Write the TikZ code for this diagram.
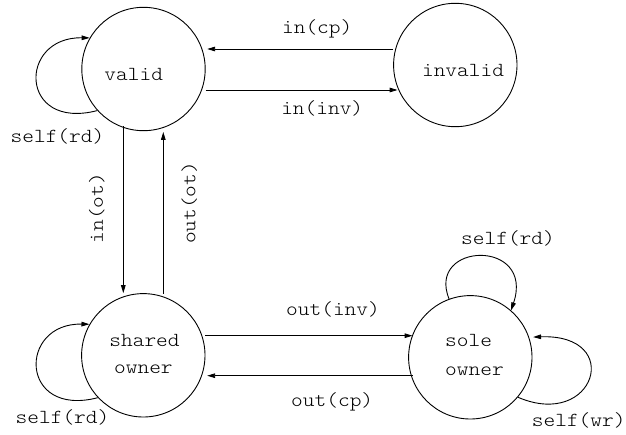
\documentclass[tikz,border=0pt]{standalone}
\usepackage{fontspec}
\setmonofont{lmmonolt10-regular}[Extension=.otf,FakeStretch=1.12]
\usetikzlibrary{arrows.meta}
\begin{document}
\begin{tikzpicture}[x=1pt,y=-1pt,
  state/.style={draw,circle,line width=0.9pt,minimum size=123.4pt,inner sep=0pt},
  txt/.style={font=\ttfamily\fontsize{19.9}{22}\selectfont,inner sep=0pt},
  arr/.style={line width=0.9pt,-{Triangle[length=8pt,width=4.6pt]}}]
\useasboundingbox (0,0) rectangle (626,434);

% states
\node[state] (valid)   at (143.5,69)  {};
\node[state] (invalid) at (455.3,65)  {};
\node[state] (shared)  at (143.3,355.3) {};
\node[state] (sole)    at (470.3,357.3) {};

% state names
\node[txt,anchor=base] (validname)   at (133.7,80) {valid};
\node[txt,anchor=base] (invalidname) at (463,76)   {invalid};
\node[txt,anchor=base] (sharedA) at (144.5,346.7) {shared};
\node[txt,anchor=base] (sharedB) at (143.4,373.3) {owner};
\node[txt,anchor=base west] (soleA) at (445,346.7) {sole};
\node[txt,anchor=base west] (soleB) at (445,375)   {owner};

% transitions between valid and invalid
\draw[arr] ([yshift=16pt]invalid.west) -- ([xshift=1.5pt,yshift=20pt]valid.east);
\draw[arr] ([yshift=-21pt]valid.east) -- ([xshift=4.4pt,yshift=-25pt]invalid.west);
\node[txt,anchor=base] (lcp)  at (317.2,33.3) {in(cp)};
\node[txt,anchor=base] (linv) at (322.2,114.3) {in(inv)};

% transitions between valid and shared owner
\draw[arr] ([xshift=-20.2pt,yshift=4.7pt]valid.south) -- ([xshift=-20pt]shared.north);
\draw[arr] ([xshift=20pt,yshift=-0.7pt]shared.north) -- ([xshift=19.8pt,yshift=-0.8pt]valid.south);
\node[txt,anchor=base,rotate=90] (lint) at (102.8,208) {in(ot)};
\node[txt,anchor=base,rotate=90] (loutt) at (195.3,203) {out(ot)};

% transitions between shared owner and sole owner
\draw[arr] ([yshift=19.6pt]shared.east) -- ([xshift=4.4pt,yshift=21.6pt]sole.west);
\draw[arr] ([xshift=4.4pt,yshift=-18.4pt]sole.west) -- ([xshift=1.7pt,yshift=-20.4pt]shared.east);
\node[txt,anchor=base] (loinv) at (333,315.7) {out(inv)};
\node[txt,anchor=base] (locp)  at (332.2,406.7) {out(cp)};

% self loops
\draw[arr] (valid.222) .. controls +(-78.7,20.3) and +(-71.7,-1.3) .. (valid.150);
\node[txt,anchor=base] (lvrd) at (57.5,142.5) {self(rd)};

\draw[arr] (shared.223) .. controls +(-78.7,20.3) and +(-71.7,-1.3) .. (shared.150);
\node[txt,anchor=base] (lsrd) at (62.5,423.3) {self(rd)};

\draw[arr] (sole.110) .. controls +(-23,-57) and +(24,-72) .. (sole.49);
\node[txt,anchor=base] (lord) at (508,244.3) {self(rd)};

\draw[arr] (sole.320) .. controls +(77,33) and +(91.7,-3.3) .. ([xshift=4pt]sole.19);
\node[txt,anchor=base] (lowr) at (578.7,426.7) {self(wr)};
\end{tikzpicture}
\end{document}
